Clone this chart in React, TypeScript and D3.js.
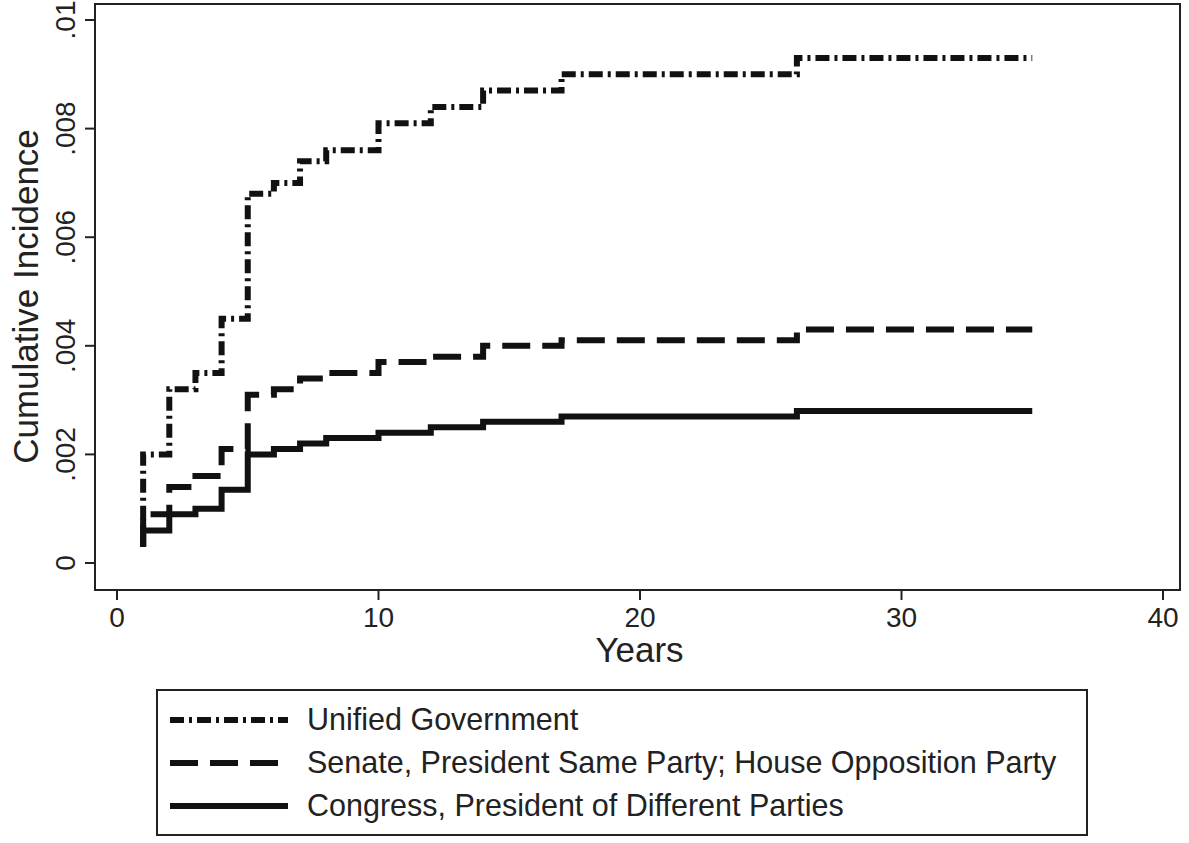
import React from "react";
import * as d3 from "d3";

const years = [1, 2, 3, 4, 5, 6, 7, 8, 10, 12, 14, 17, 26, 35];
const unified = [0.002, 0.0032, 0.0035, 0.0045, 0.0068, 0.007, 0.0074, 0.0076, 0.0081, 0.0084, 0.0087, 0.009, 0.0093, 0.0093];
const senate = [0.0009, 0.0014, 0.0016, 0.0021, 0.0031, 0.0032, 0.0034, 0.0035, 0.0037, 0.0038, 0.004, 0.0041, 0.0043, 0.0043];
const congress = [0.0006, 0.0009, 0.001, 0.00135, 0.002, 0.0021, 0.0022, 0.0023, 0.0024, 0.0025, 0.0026, 0.0027, 0.0028, 0.0028];
const startValue = 0.0003;
const xTicks = [0, 10, 20, 30, 40];
const yTicks = [0, 0.002, 0.004, 0.006, 0.008, 0.01];
const yTickLabels = ["0", ".002", ".004", ".006", ".008", ".01"];

const series = [
  { label: "Unified Government", values: unified, dash: "14,5,3,5" },
  { label: "Senate, President Same Party; House Opposition Party", values: senate, dash: "28,12" },
  { label: "Congress, President of Different Parties", values: congress, dash: "none" },
];

export default function App() {
  const W = 1189, H = 843;
  const frame = { left: 95, right: 1180, top: 4, bottom: 590 };
  const x = d3.scaleLinear().domain([0, 40]).range([117, 1163]);
  const y = d3.scaleLinear().domain([0, 0.01]).range([563, 20]);
  const line = d3.line<[number, number]>().x(d => x(d[0])).y(d => y(d[1])).curve(d3.curveStepAfter);
  const font = "Liberation Sans, Arial, sans-serif";

  return (
    <svg width={W} height={H} style={{ position: "absolute", left: 0, top: 0, background: "#fff" }} fontFamily={font}>
      <rect x={frame.left} y={frame.top} width={frame.right - frame.left} height={frame.bottom - frame.top} fill="none" stroke="#222" strokeWidth={2} />
      {xTicks.map(t => (
        <g key={t}>
          <line x1={x(t)} x2={x(t)} y1={frame.bottom} y2={frame.bottom + 10} stroke="#222" strokeWidth={2} />
          <text x={x(t)} y={frame.bottom + 37} textAnchor="middle" fontSize={28} fill="#222">{t}</text>
        </g>
      ))}
      {yTicks.map((t, i) => (
        <g key={t}>
          <line x1={frame.left - 10} x2={frame.left} y1={y(t)} y2={y(t)} stroke="#222" strokeWidth={2} />
          <text transform={`translate(${frame.left - 20},${y(t)}) rotate(-90)`} textAnchor="middle" fontSize={28} fill="#222">{yTickLabels[i]}</text>
        </g>
      ))}
      <text x={(frame.left + frame.right) / 2 + 2} y={662} textAnchor="middle" fontSize={35} fill="#222">Years</text>
      <text transform={`translate(38,${(20 + 563) / 2 + 5}) rotate(-90)`} textAnchor="middle" fontSize={35} fill="#222">Cumulative Incidence</text>
      {series.map(s => {
        const pts: [number, number][] = [[years[0], startValue], ...years.map((yr, i) => [yr, s.values[i]] as [number, number])];
        return <path key={s.label} d={line(pts) || ""} fill="none" stroke="#111" strokeWidth={6} strokeDasharray={s.dash} />;
      })}
      <rect x={157} y={690} width={930} height={145} fill="none" stroke="#222" strokeWidth={2} />
      {series.map((s, i) => {
        const ly = 720 + i * 43;
        return (
          <g key={s.label}>
            <line x1={170} x2={288} y1={ly} y2={ly} stroke="#111" strokeWidth={6} strokeDasharray={s.dash} />
            <text x={307} y={ly + 10} fontSize={30.5} fill="#222">{s.label}</text>
          </g>
        );
      })}
    </svg>
  );
}
